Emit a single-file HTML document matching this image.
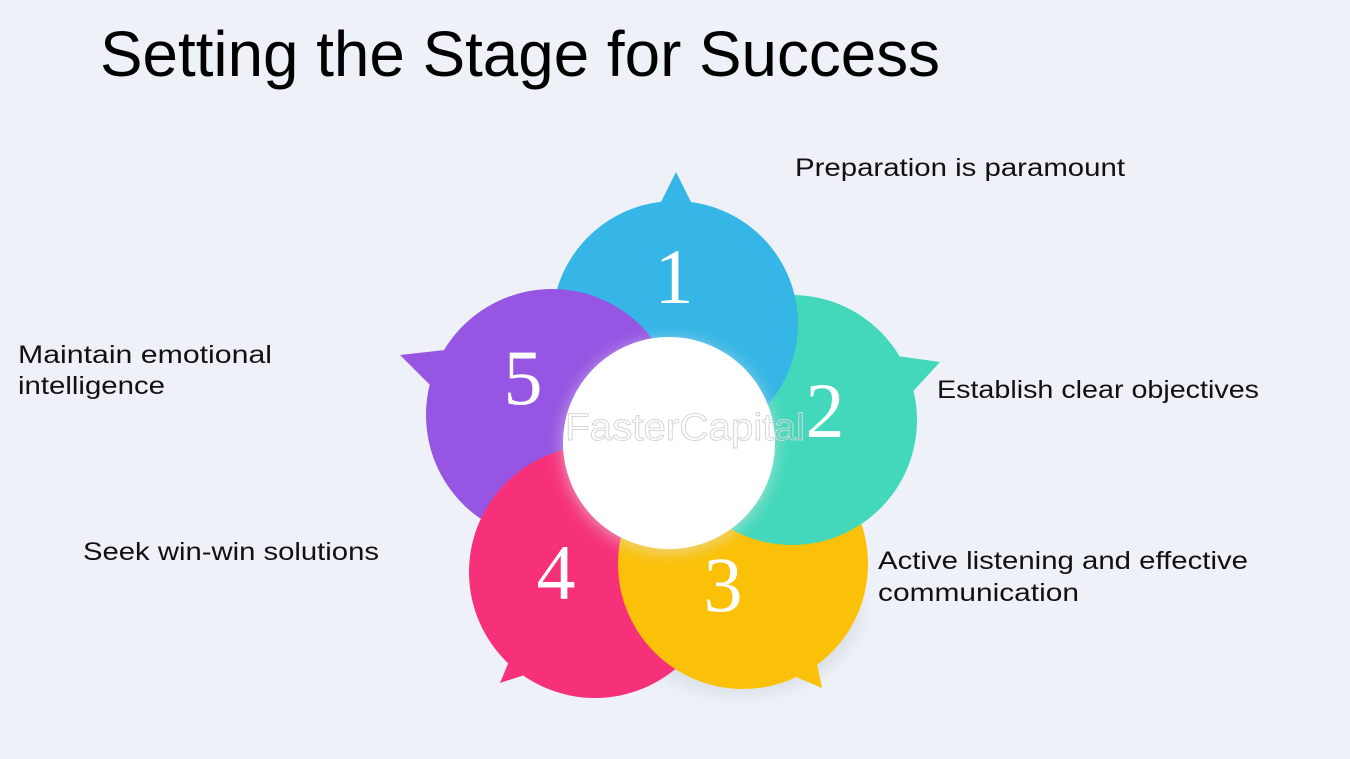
<!DOCTYPE html>
<html><head><meta charset="utf-8"><style>
html,body{margin:0;padding:0;background:#eef2f8;}
svg{display:block;}
</style></head><body>
<svg width="1350" height="759" viewBox="0 0 1350 759" xmlns="http://www.w3.org/2000/svg">
<defs>
<clipPath id="c2"><circle cx="792" cy="420" r="125"/></clipPath>
<filter id="sh" x="-30%" y="-30%" width="160%" height="160%"><feGaussianBlur stdDeviation="8"/></filter>
</defs>
<rect width="1350" height="759" fill="#eef2f8"/>
<text x="100" y="76" font-family="Liberation Sans, sans-serif" font-size="64" fill="#000" textLength="840" lengthAdjust="spacingAndGlyphs">Setting the Stage for Success</text>

<!-- shadow -->
<ellipse cx="740" cy="610" rx="120" ry="85" fill="#c8ccd4" opacity="0.5" filter="url(#sh)"/>

<g font-family="Liberation Sans, sans-serif" font-size="25" fill="#111">
<text x="795" y="176" textLength="330" lengthAdjust="spacingAndGlyphs">Preparation is paramount</text>
<text x="937" y="398" textLength="322" lengthAdjust="spacingAndGlyphs">Establish clear objectives</text>
<text x="878" y="569" textLength="370" lengthAdjust="spacingAndGlyphs">Active listening and effective</text>
<text x="878" y="601" textLength="201" lengthAdjust="spacingAndGlyphs">communication</text>
<text x="18" y="363" textLength="254" lengthAdjust="spacingAndGlyphs">Maintain emotional</text>
<text x="18" y="394" textLength="147" lengthAdjust="spacingAndGlyphs">intelligence</text>
<text x="83" y="560" textLength="296" lengthAdjust="spacingAndGlyphs">Seek win-win solutions</text>
</g>

<!-- 1 blue -->
<g fill="#36b6e6">
<circle cx="675" cy="324" r="123"/>
<polygon points="676,172 658,208 694,208"/>
</g>
<!-- 5 purple -->
<g fill="#9655e2">
<circle cx="552" cy="415" r="126"/>
<polygon points="400,355 445,350 440,395"/>
</g>
<!-- 4 pink -->
<g fill="#f6317a">
<circle cx="595" cy="572" r="126"/>
<polygon points="500,683 522,630 555,665"/>
</g>
<!-- 3 yellow -->
<g fill="#fbc108">
<circle cx="743" cy="564" r="125"/>
<polygon points="822,688 812,640 780,670"/>
</g>
<!-- 2 teal -->
<g fill="#43d8bb">
<circle cx="792" cy="420" r="125"/>
<polygon points="940,362 890,355 905,400"/>
</g>
<!-- blue over teal -->
<circle cx="675" cy="324" r="123" fill="#36b6e6" clip-path="url(#c2)"/>

<!-- center -->
<circle cx="669" cy="446" r="106" fill="#e3e6ea" filter="url(#sh)" opacity="0.6"/>
<circle cx="669" cy="443" r="106" fill="#ffffff"/>
<text x="565" y="440" font-family="Liberation Sans, sans-serif" font-size="38" fill="none" stroke="#d6d6d6" stroke-width="1" textLength="240" lengthAdjust="spacingAndGlyphs">FasterCapital</text>

<g font-family="Liberation Serif, serif" font-size="78" fill="#fff" text-anchor="middle">
<text x="674" y="303">1</text>
<text x="825" y="437">2</text>
<text x="723" y="611">3</text>
<text x="556" y="599">4</text>
<text x="523" y="404">5</text>
</g>
</svg>
</body></html>
